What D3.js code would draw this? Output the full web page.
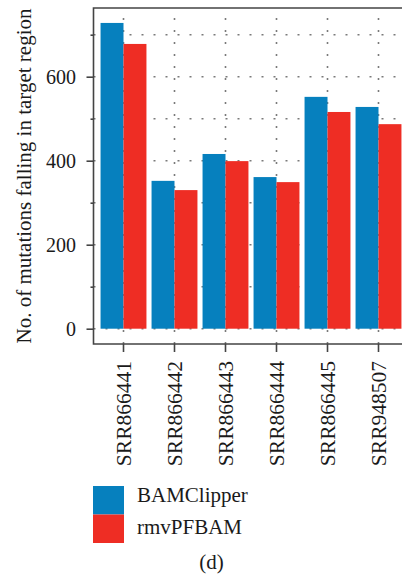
<!DOCTYPE html>
<html>
<head>
<meta charset="utf-8">
<script src="https://cdn.jsdelivr.net/npm/d3@7"></script>
<style>
  html, body { margin: 0; padding: 0; background: #fff; }
  svg { display: block; }
  svg text { font-family: "Liberation Serif", "DejaVu Serif", serif; }
</style>
</head>
<body>
<div id="chart"></div>
<script>
// --------------------------------------
//  Data
// --------------------------------------
const samples = ["SRR866441", "SRR866442", "SRR866443", "SRR866444", "SRR866445", "SRR948507"];
const tools = ["BAMClipper", "rmvPFBAM"];
const bamclipper = [728, 352, 416, 361, 552, 528];
const rmvpfbam = [678, 330, 399, 349, 516, 487];
const yTicks = [0, 200, 400, 600];
const yMinorTicks = [100, 300, 500, 700];
const gridValues = [0, 100, 200, 300, 400, 500, 600, 700];
const colors = ["#0680be", "#ee2d24"];

const data = samples.map((s, i) => ({ sample: s, values: [bamclipper[i], rmvpfbam[i]] }));

// --------------------------------------
//  Canvas
// --------------------------------------
const width = 402, height = 580;
const plot = { left: 93.5, top: 8, bottom: 344, right: 420 };
const serif = "'Liberation Serif', 'DejaVu Serif', serif";

const svg = d3.select("#chart")
  .append("svg")
  .attr("width", width)
  .attr("height", height)
  .attr("viewBox", [0, 0, width, height])
  .attr("font-family", serif);

// --------------------------------------
//  Scales
// --------------------------------------
const x = d3.scaleBand()
  .domain(samples)
  .range([98, 404])
  .paddingInner(0.1)
  .paddingOuter(0.05);

const xSub = d3.scaleBand()
  .domain(tools)
  .range([0, x.bandwidth()]);

const y = d3.scaleLinear()
  .domain([0, 600])
  .range([328.7, 76.7]);

// --------------------------------------
//  Grid (dotted)
// --------------------------------------
const grid = svg.append("g")
  .attr("stroke", "#7a7a7a")
  .attr("stroke-width", 1.6)
  .attr("stroke-dasharray", "2,10");

grid.selectAll("line.h")
  .data(gridValues)
  .join("line")
    .attr("class", "h")
    .attr("x1", plot.left)
    .attr("x2", plot.right)
    .attr("y1", d => y(d))
    .attr("y2", d => y(d));

grid.selectAll("line.v")
  .data(samples)
  .join("line")
    .attr("class", "v")
    .attr("x1", d => x(d) + x.bandwidth() / 2)
    .attr("x2", d => x(d) + x.bandwidth() / 2)
    .attr("y1", plot.bottom)
    .attr("y2", plot.top);

// --------------------------------------
//  Bars
// --------------------------------------
svg.append("g")
  .selectAll("g")
  .data(data)
  .join("g")
    .attr("transform", d => `translate(${x(d.sample)},0)`)
  .selectAll("rect")
  .data(d => d.values.map((v, j) => ({ tool: tools[j], value: v, j })))
  .join("rect")
    .attr("x", d => xSub(d.tool))
    .attr("y", d => y(d.value))
    .attr("width", xSub.bandwidth())
    .attr("height", d => y(0) - y(d.value))
    .attr("fill", d => colors[d.j]);

// --------------------------------------
//  Frame
// --------------------------------------
svg.append("path")
  .attr("stroke", "#444")
  .attr("stroke-width", 1.6)
  .attr("fill", "none")
  .attr("d", `M${plot.right},${plot.top}H${plot.left}V${plot.bottom}H${plot.right}`);

// --------------------------------------
//  Axes
// --------------------------------------
const yAxis = svg.append("g")
  .attr("transform", `translate(${plot.left},0)`)
  .call(d3.axisLeft(y).tickValues(yTicks).tickSize(7).tickPadding(10).tickFormat(d3.format("d")));

const yMinor = svg.append("g")
  .attr("transform", `translate(${plot.left},0)`)
  .call(d3.axisLeft(y).tickValues(yMinorTicks).tickSize(3).tickFormat(""));

const xAxis = svg.append("g")
  .attr("transform", `translate(0,${plot.bottom})`)
  .call(d3.axisBottom(x).tickSize(8).tickFormat(""));

[yAxis, yMinor, xAxis].forEach(g => {
  g.attr("font-family", serif);
  g.select(".domain").remove();
  g.selectAll(".tick line").attr("stroke", "#444").attr("stroke-width", 1.6);
});

yAxis.selectAll(".tick text")
  .attr("font-size", 20)
  .attr("fill", "#1a1a1a")
  .attr("x", -17.5)
  .attr("dy", "0.34em");

// rotated sample labels
svg.append("g")
  .selectAll("text")
  .data(samples)
  .join("text")
    .attr("transform", d => `translate(${x(d) + x.bandwidth() / 2},361) rotate(-90)`)
    .attr("text-anchor", "end")
    .attr("dy", "0.34em")
    .attr("font-size", 21.5)
    .attr("fill", "#1a1a1a")
    .text(d => d);

// y axis title
svg.append("text")
  .attr("transform", `translate(31,${(plot.top + plot.bottom) / 2}) rotate(-90)`)
  .attr("text-anchor", "middle")
  .attr("font-size", 21)
  .attr("fill", "#1a1a1a")
  .text("No. of mutations falling in target region");

// --------------------------------------
//  Legend
// --------------------------------------
const legend = svg.append("g")
  .attr("transform", "translate(93,486)");

legend.selectAll("rect")
  .data(tools)
  .join("rect")
    .attr("x", 0)
    .attr("y", (d, i) => i * 28.5)
    .attr("width", 31)
    .attr("height", 28.5)
    .attr("fill", (d, i) => colors[i]);

legend.selectAll("text")
  .data(tools)
  .join("text")
    .attr("x", 44)
    .attr("y", (d, i) => 16 + i * 31.5)
    .attr("font-size", 21)
    .attr("fill", "#1a1a1a")
    .text(d => d);

svg.append("text")
  .attr("x", 211.5)
  .attr("y", 569)
  .attr("text-anchor", "middle")
  .attr("font-size", 21)
  .attr("fill", "#1a1a1a")
  .text("(d)");
</script>
</body>
</html>
